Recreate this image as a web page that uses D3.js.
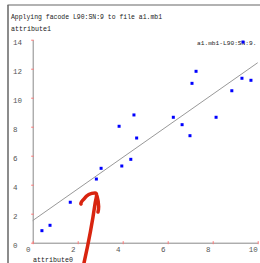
<!DOCTYPE html>
<html>
<head>
<meta charset="utf-8">
<script src="https://cdn.jsdelivr.net/npm/d3@7"></script>
<style>
  body { margin: 0; background: #fff; }
  text { font-family: "Liberation Mono", "DejaVu Sans Mono", monospace; }
</style>
</head>
<body>
<div id="chart"></div>
<script>
// values
var pointX = [0.41, 0.77, 1.67, 2.83, 3.04, 3.84, 3.96, 4.36, 4.50, 4.62, 6.25, 6.64, 6.99, 7.08, 7.26, 8.15, 8.85, 9.30, 9.70];
var pointY = [0.83, 1.20, 2.79, 4.39, 5.13, 8.03, 5.29, 5.75, 8.81, 7.22, 8.65, 8.14, 7.38, 10.99, 11.82, 8.65, 10.48, 11.34, 11.20];
var xTicks = [0, 2, 4, 6, 8, 10];
var yTicks = [0, 2, 4, 6, 8, 10, 12, 14];
var titleText = "Applying facode L90:SN:9 to file a1.mb1";
var legendText = "a1.mb1-L90:SN:9.";
var xName = "attribute0";
var yName = "attribute1";

var width = 260;
var height = 263;

var svg = d3.select("#chart")
    .append("svg")
    .attr("width", width)
    .attr("height", height);

var x = d3.scaleLinear().domain([0, 10]).range([32.7, 257.7]);
var y = d3.scaleLinear().domain([0, 14]).range([242.7, 39.7]);

// frame lines of the window
svg.append("line")
    .attr("x1", 7.5).attr("x2", width)
    .attr("y1", 5).attr("y2", 5)
    .attr("stroke", "#999").attr("stroke-width", 1.5);
svg.append("line")
    .attr("x1", 8).attr("x2", 8)
    .attr("y1", 5).attr("y2", height)
    .attr("stroke", "#666").attr("stroke-width", 1.5);

// titles
svg.append("text")
    .attr("x", 11).attr("y", 19)
    .attr("font-size", 7.5).attr("fill", "#222")
    .attr("textLength", 151).attr("lengthAdjust", "spacingAndGlyphs")
    .text(titleText);
svg.append("text")
    .attr("x", 11).attr("y", 31)
    .attr("font-size", 7.5).attr("fill", "#222")
    .attr("textLength", 40).attr("lengthAdjust", "spacingAndGlyphs")
    .text(yName);
svg.append("text")
    .attr("x", 33).attr("y", 262)
    .attr("font-size", 7.5).attr("fill", "#222")
    .attr("textLength", 40).attr("lengthAdjust", "spacingAndGlyphs")
    .text(xName);

// axes
var yAxis = svg.append("g")
    .attr("transform", "translate(" + x(0) + ",0)")
    .call(d3.axisLeft(y).tickValues(yTicks).tickSize(0).tickFormat(d3.format("d")));
yAxis.select(".domain").attr("stroke", "#888");
yAxis.selectAll(".tick line").attr("x1", -1.5).attr("x2", 1).attr("stroke", "#f77");
yAxis.selectAll(".tick text")
    .attr("x", 13 - x(0)).attr("dy", "0.35em").attr("y", 2)
    .attr("text-anchor", "start")
    .attr("font-family", "Liberation Mono, monospace")
    .attr("font-size", 7.5).attr("fill", "#555");

var xAxis = svg.append("g")
    .attr("transform", "translate(0," + y(0) + ")")
    .call(d3.axisBottom(x).tickValues(xTicks).tickSize(0).tickFormat(d3.format("d")));
xAxis.select(".domain").attr("stroke", "#888");
xAxis.selectAll(".tick line").attr("y1", -1.5).attr("y2", 1.5).attr("stroke", "#f77");
xAxis.selectAll(".tick text")
    .attr("x", -5).attr("y", 7).attr("dy", "0.35em")
    .attr("text-anchor", "middle")
    .attr("font-family", "Liberation Mono, monospace")
    .attr("font-size", 7.5).attr("fill", "#555");

// least squares fit through the points
var mx = d3.mean(pointX), my = d3.mean(pointY);
var sxy = d3.sum(pointX, function (d, i) { return (d - mx) * (pointY[i] - my); });
var sxx = d3.sum(pointX, function (d) { return (d - mx) * (d - mx); });
var slope = sxy / sxx;
var intercept = my - slope * mx;
var fitLine = d3.line()
    .x(function (d) { return x(d); })
    .y(function (d) { return y(intercept + slope * d); });
svg.append("path")
    .attr("d", fitLine(x.domain()))
    .attr("stroke", "#999").attr("stroke-width", 1).attr("fill", "none");

// points
svg.selectAll(".pt")
    .data(pointX)
    .enter().append("rect")
    .attr("class", "pt")
    .attr("x", function (d) { return x(d) - 1.5; })
    .attr("y", function (d, i) { return y(pointY[i]) - 1.5; })
    .attr("width", 3).attr("height", 3)
    .attr("fill", "#0000ff");

// legend (smaller font so it stays inside the right edge)
svg.append("text")
    .attr("x", 197).attr("y", 45)
    .attr("font-size", 6.2).attr("fill", "#222")
    .text(legendText);
svg.append("rect")
    .attr("x", 241.5).attr("y", 40.5)
    .attr("width", 3).attr("height", 3)
    .attr("fill", "#0000ff");

// hand drawn red arrow scribbled over the plot (screen annotation)
svg.append("path")
    .attr("d", "M84,263 C88,245 92,225 95,204 C96,198 98,193 95,193 C90,193 86,196 84,199 C82,201 80,203 81,204 M97,196 C99,203 99,208 98,212")
    .attr("stroke", "#d8240f").attr("stroke-width", 3.5)
    .attr("stroke-linecap", "round").attr("stroke-linejoin", "round")
    .attr("fill", "none");
</script>
</body>
</html>
